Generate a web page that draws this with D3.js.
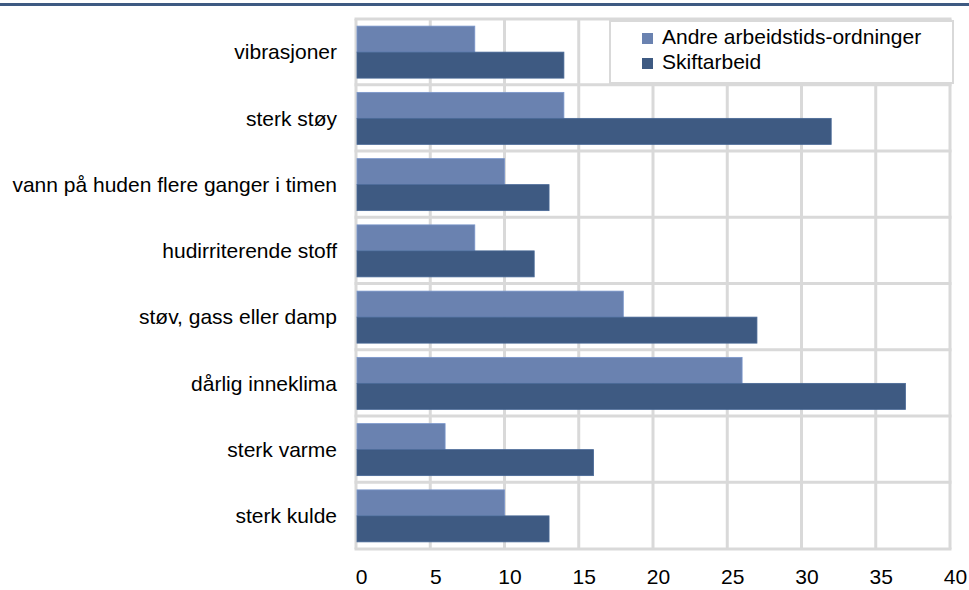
<!DOCTYPE html>
<html>
<head>
<meta charset="utf-8">
<script src="https://cdn.jsdelivr.net/npm/d3@7"></script>
<style>
  body { margin: 0; background: #fff; }
  svg { display: block; font-family: "Liberation Sans", Arial, sans-serif; }
</style>
</head>
<body>
<svg id="chart" width="969" height="590"></svg>
<script>
const categories = ["vibrasjoner", "sterk støy", "vann på huden flere ganger i timen", "hudirriterende stoff",
    "støv, gass eller damp", "dårlig inneklima", "sterk varme", "sterk kulde"];
const seriesNames = ["Andre arbeidstids-ordninger", "Skiftarbeid"];
const andre = [8, 14, 10, 8, 18, 26, 6, 10];
const skift = [14, 32, 13, 12, 27, 37, 16, 13];
const xTicks = [0, 5, 10, 15, 20, 25, 30, 35, 40];

const COLORS = { "Andre arbeidstids-ordninger": "#6a82b0", "Skiftarbeid": "#3e5a82" };
const GRID = "#d9d9d9";

const svg = d3.select("#chart");
const plot = { left: 356, right: 950, top: 19, bottom: 549 };

// top rule
svg.append("rect").attr("x", 0).attr("y", 3).attr("width", 969).attr("height", 3).attr("fill", "#3e5a82");

const x = d3.scaleLinear().domain([0, 40]).range([plot.left, plot.right]);
const y0 = d3.scaleBand().domain(categories).range([plot.top, plot.bottom]).paddingInner(0.215).paddingOuter(0.1075);
const y1 = d3.scaleBand().domain(seriesNames).range([0, y0.bandwidth()]);

// vertical gridlines
svg.append("g").selectAll("line").data(xTicks).join("line")
    .attr("x1", d => x(d)).attr("x2", d => x(d))
    .attr("y1", plot.top).attr("y2", plot.bottom)
    .attr("stroke", GRID).attr("stroke-width", 3);

// horizontal gridlines at category boundaries
const edges = categories.map(c => y0(c) - y0.step() * y0.paddingInner() / 2 - 0.6);
edges.push(plot.bottom);
edges[0] = plot.top;
svg.append("g").selectAll("line").data(edges).join("line")
    .attr("x1", plot.left - 1.5).attr("x2", plot.right + 1.5)
    .attr("y1", d => d).attr("y2", d => d)
    .attr("stroke", GRID).attr("stroke-width", 3);

// bars
const rows = categories.map((c, i) => ({ cat: c, vals: [
    { s: seriesNames[0], v: andre[i] },
    { s: seriesNames[1], v: skift[i] }
]}));
svg.append("g").selectAll("g").data(rows).join("g")
    .attr("transform", d => `translate(0,${y0(d.cat)})`)
    .selectAll("rect").data(d => d.vals).join("rect")
    .attr("x", x(0) + 1)
    .attr("y", d => y1(d.s))
    .attr("width", d => x(d.v) - x(0) - 1)
    .attr("height", y1.bandwidth())
    .attr("fill", d => COLORS[d.s])
    .attr("stroke", d => d3.color(COLORS[d.s]).brighter(0.4))
    .attr("stroke-width", 0.8);

// category labels
svg.append("g").selectAll("text").data(categories).join("text")
    .attr("x", 337)
    .attr("y", d => y0(d) + y0.bandwidth() / 2)
    .attr("dy", "0.35em")
    .attr("text-anchor", "end")
    .attr("font-size", 21)
    .attr("fill", "#000")
    .text(d => d);

// x axis labels
const xAxis = svg.append("g").attr("transform", `translate(0,${plot.bottom})`)
    .call(d3.axisBottom(x).tickValues(xTicks).tickSize(0).tickPadding(20));
xAxis.select(".domain").remove();
xAxis.selectAll("text")
    .attr("font-size", 21)
    .attr("font-family", "Liberation Sans, Arial, sans-serif")
    .attr("fill", "#000")
    .attr("dx", 5);

// legend
const legend = svg.append("g");
legend.append("rect").attr("x", 610).attr("y", 21).attr("width", 343).attr("height", 62)
    .attr("fill", "#fff").attr("stroke", GRID).attr("stroke-width", 2);
seriesNames.forEach((s, i) => {
    legend.append("rect").attr("x", 642).attr("y", 33 + i * 25).attr("width", 11).attr("height", 11)
        .attr("fill", COLORS[s]);
    legend.append("text").attr("x", 662).attr("y", 44 + i * 25)
        .attr("font-size", 21).attr("fill", "#000").text(s);
});
</script>
</body>
</html>
